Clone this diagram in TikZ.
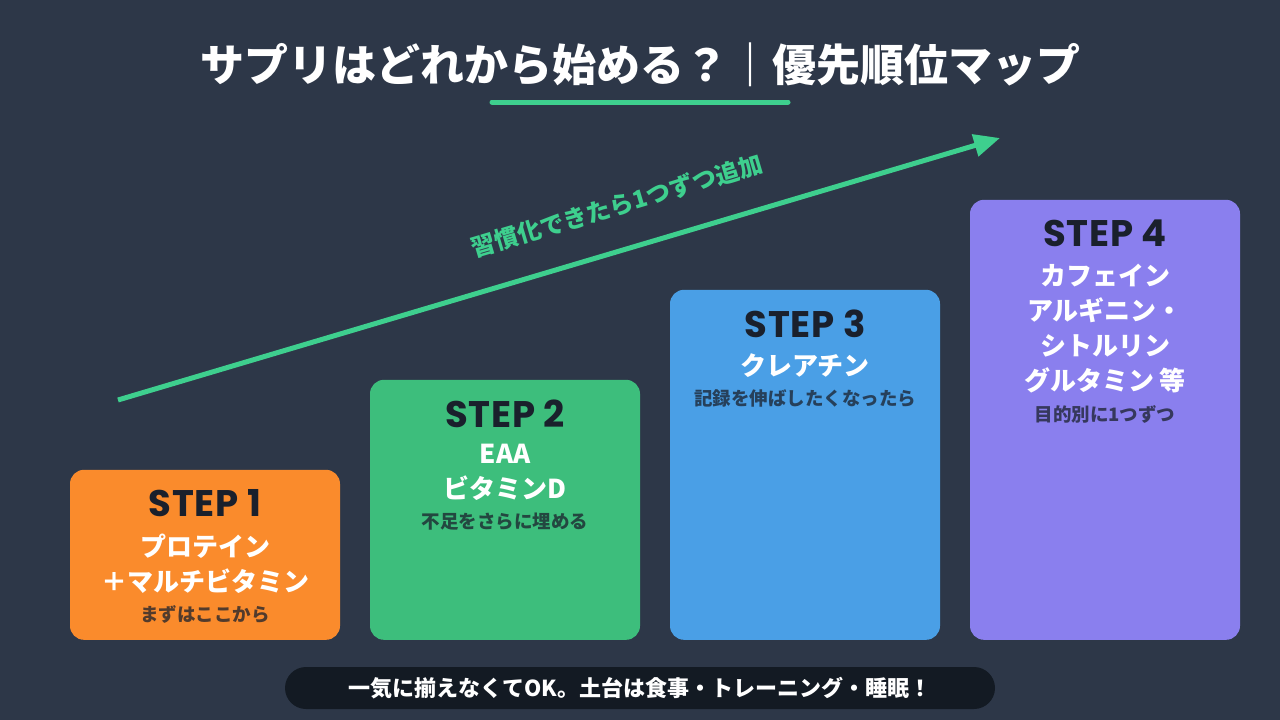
\documentclass[tikz,border=0pt]{standalone}
\usepackage{fontspec}
\usepackage{tikz}
\usepackage{xcolor}
\usetikzlibrary{positioning,arrows.meta}
\newfontfamily\jpfont{Noto Sans CJK JP}
\newfontfamily\stepfont[LetterSpace=2]{Poppins}

\begin{document}
\begin{tikzpicture}[x=1pt,y=-1pt,
  stepbox/.style={rectangle,rounded corners=14pt,minimum width=270pt,inner sep=0pt},
  steplabel/.style={font=\stepfont\bfseries\fontsize{37}{37}\selectfont,text=stepink,inner sep=0pt},
  itemtext/.style={font=\jpfont\bfseries\fontsize{26}{35}\selectfont,text=white,align=center,inner sep=0pt,anchor=north},
  notetext/.style={font=\jpfont\bfseries\fontsize{18.5}{18.5}\selectfont,inner sep=0pt}]
\definecolor{bg}{HTML}{2D3748}
\definecolor{accent}{HTML}{3ECF8E}
\definecolor{stepink}{HTML}{1A202C}
\definecolor{steporange}{HTML}{FA8B2C}
\definecolor{stepgreen}{HTML}{3DBE7C}
\definecolor{stepblue}{HTML}{4A9FE6}
\definecolor{steppurple}{HTML}{8A7FEE}
\definecolor{footbg}{HTML}{131A23}
\fill[bg] (0,0) rectangle (1280,720);
\useasboundingbox (0,0) rectangle (1280,720);

\node[font=\jpfont\bfseries\fontsize{44}{44}\selectfont,text=white] (title) at (640,65) {サプリはどれから始める？｜優先順位マップ};
\draw[accent,line width=5pt,line cap=round] (492,102) -- (788,102);

\coordinate (growstart) at (118,400);
\coordinate (growend) at (1000,138);
\draw[accent,line width=5pt,-{Triangle[length=26pt,width=22pt]}] (growstart) -- (growend)
  node[pos=0.58,sloped,above=30pt,font=\jpfont\bfseries\fontsize{24}{24}\selectfont,text=accent,inner sep=0pt] (growlabel) {習慣化できたら1つずつ追加};

\foreach \n/\clr/\hgt in {1/orange/170,2/green/260,3/blue/350,4/purple/440}
{ \node[stepbox,fill=step\clr,minimum height=\hgt pt,anchor=south] (box\n) at (205+300*\n-300,640) {};
  \node[steplabel] (step\n) at ([yshift=-34pt]box\n.north) {STEP \n}; }

\node[itemtext] (item1) at ([yshift=-64pt]box1.north) {プロテイン\\＋マルチビタミン};
\node[notetext,text=stepink!75!steporange,below=12pt of item1] (note1) {まずはここから};
\node[itemtext] (item2) at ([yshift=-64pt]box2.north) {EAA\\ビタミンD};
\node[notetext,text=stepink!75!stepgreen,below=12pt of item2] (note2) {不足をさらに埋める};
\node[itemtext] (item3) at ([yshift=-64pt]box3.north) {クレアチン};
\node[notetext,text=stepink!75!stepblue,below=12pt of item3] (note3) {記録を伸ばしたくなったら};
\node[itemtext] (item4) at ([yshift=-64pt]box4.north) {カフェイン\\アルギニン・\\シトルリン\\グルタミン 等};
\node[notetext,text=stepink!75!steppurple,below=12pt of item4] (note4) {目的別に1つずつ};

\node[rectangle,rounded corners=21pt,fill=footbg,minimum width=710pt,minimum height=42pt,
  font=\jpfont\bfseries\fontsize{22}{22}\selectfont,text=white] (footer) at (640,688)
  {一気に揃えなくてOK。土台は食事・トレーニング・睡眠！};
\end{tikzpicture}
\end{document}
